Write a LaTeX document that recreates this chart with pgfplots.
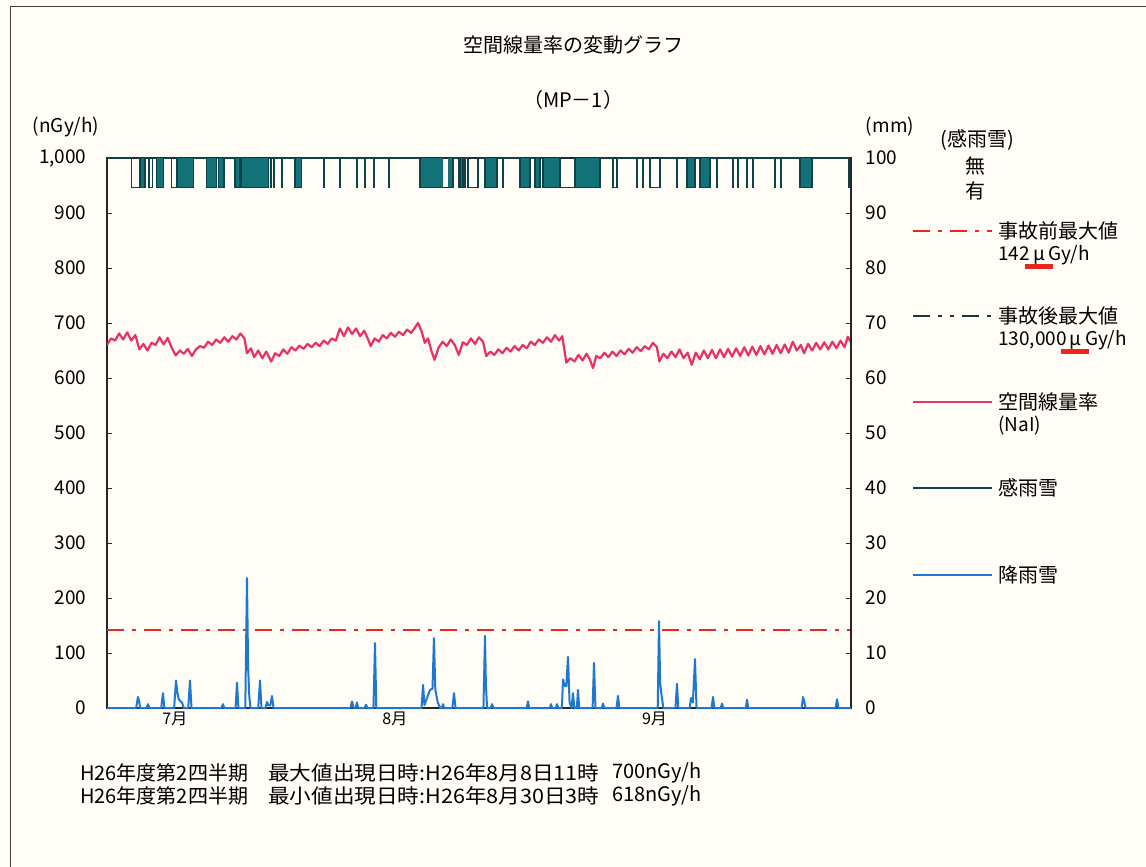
\documentclass[border=0pt]{standalone}
\usepackage{fontspec}
\setmainfont{Noto Sans CJK JP}
\usepackage{pgfplots}
\pgfplotsset{compat=1.18}
\definecolor{pinkline}{HTML}{E8306A}
\definecolor{rainblue}{HTML}{1E78D0}
\definecolor{senseD}{HTML}{0E4248}
\definecolor{senseT}{HTML}{137278}
\definecolor{redline}{HTML}{E8281E}
\definecolor{postline}{HTML}{1A3838}
\definecolor{paper}{HTML}{FFFDF6}
\newcommand\fs[1]{\fontsize{#1}{#1}\selectfont}
\tikzset{redDD/.style={redline, line width=2.5pt, dash pattern=on 17pt off 8pt on 4pt off 8pt}}
\begin{document}
\begin{tikzpicture}[x=1pt,y=1pt]
\path[use as bounding box, fill=paper] (0,0) rectangle (1146,-867);
\draw[line width=1pt, black!75] (10,-867) -- (10,-7) -- (1146,-7);

% left axis: dose rate
\begin{axis}[
  at={(107pt,-708pt)}, anchor=south west,
  width=744pt, height=550pt, scale only axis,
  xmin=0, xmax=92, ymin=0, ymax=1000,
  ytick={0,100,...,1000}, ytick pos=left,
  xtick={8.4,35.6,67.7}, xticklabels={7月,8月,9月}, xtick pos=bottom,
  xtick style={draw=none},
  tick align=inside, major tick length=5pt,
  /pgf/number format/assume math mode=true,
  /pgf/number format/1000 sep={,},
  yticklabel style={font=\fs{19}, xshift=-17pt},
  xticklabel style={font=\fs{16}},
  axis line style={line width=1.2pt, black!85},
  tick style={line width=0.8pt, black!85},
]
\addplot[pinkline, line width=2.2pt, line join=round] table {
0 660
0.5 672
1 668
1.5 681
2 670
2.5 683
3 668
3.5 678
4 652
4.5 662
5 650
5.5 664
6 660
6.5 674
7 661
7.5 673
8 655
8.5 641
9 650
9.5 644
10 653
10.5 640
11 652
11.5 658
12 655
12.5 666
13 660
13.5 670
14 664
14.5 674
15 666
15.5 676
16 670
16.5 681
17 672
17.3 645
17.8 654
18.2 638
18.7 650
19.2 636
19.7 648
20.3 630
20.8 645
21.3 640
21.8 652
22.3 644
22.8 656
23.3 650
23.8 659
24.3 653
24.8 662
25.3 656
25.8 664
26.3 658
26.8 668
27.3 662
27.8 672
28.3 668
28.8 690
29.3 676
29.8 692
30.3 680
30.8 690
31.3 676
31.8 686
32.3 670
32.6 658
33.1 672
33.6 666
34.1 678
34.6 672
35.1 682
35.6 675
36.1 684
36.6 678
37.1 688
37.6 682
38.0 690
38.46 700
38.9 685
39.3 664
39.7 672
40.1 650
40.5 633
41.0 655
41.5 666
42.0 658
42.5 670
43.0 660
43.5 642
44.0 665
44.5 660
45.0 672
45.5 662
46.0 674
46.5 666
46.9 640
47.4 648
47.9 642
48.4 652
48.9 645
49.4 655
49.9 648
50.4 658
50.9 650
51.4 660
51.9 654
52.4 666
52.9 660
53.4 670
53.9 664
54.4 674
54.9 666
55.4 678
55.9 668
56.3 676
56.8 628
57.3 636
57.8 630
58.3 642
58.8 632
59.3 644
59.7 634
60.1 618
60.5 640
61.0 636
61.5 646
62.0 638
62.5 648
63.0 640
63.5 650
64.0 643
64.5 653
65.0 646
65.5 656
66.0 649
66.5 658
67.0 652
67.5 664
68.0 656
68.3 630
68.8 644
69.3 636
69.8 648
70.3 638
70.8 652
71.3 636
71.8 646
72.3 624
72.8 646
73.3 634
73.8 650
74.3 636
74.8 651
75.3 636
75.8 652
76.3 638
76.8 653
77.3 639
77.8 654
78.3 640
78.8 656
79.3 641
79.8 657
80.3 642
80.8 658
81.3 643
81.8 659
82.3 644
82.8 660
83.3 645
83.8 661
84.3 646
84.8 666
85.3 650
85.8 660
86.2 645
86.7 662
87.2 650
87.7 664
88.2 652
88.7 665
89.2 652
89.7 666
90.2 654
90.7 668
91.2 656
91.6 675
92 665
};
% pre-accident maximum level
\addplot[redDD] coordinates {(0,142) (92,142)};
\end{axis}

% right axis: rainfall and rain sensing
\begin{axis}[
  at={(107pt,-708pt)}, anchor=south west,
  width=744pt, height=550pt, scale only axis,
  xmin=0, xmax=92, ymin=0, ymax=100,
  axis y line*=right, axis x line=none,
  ytick={0,10,...,100},
  tick align=inside, major tick length=5pt,
  /pgf/number format/assume math mode=true,
  yticklabel style={font=\fs{19}, xshift=11pt},
  axis line style={line width=1.2pt, black!85},
  tick style={line width=0.8pt, black!85},
  clip=false,
]
\addplot[rainblue, line width=2pt, line join=round] table {
0 0
3.6 0
3.83 2.0
4.0 1.0
4.1 0
4.9 0
5.07 0.7
5.25 0
6.7 0
6.92 2.7
7.1 0
8.3 0
8.53 5.0
8.7 2.8
8.9 1.5
9.27 1.0
9.5 0
10.05 0
10.26 5.0
10.45 0
14.15 0
14.34 0.7
14.5 0
15.9 0
16.08 4.6
16.25 0
17.1 0
17.31 23.6
17.45 7.4
17.6 2.0
17.75 0
18.7 0
18.92 5.0
19.1 0
19.6 0
19.78 1.1
19.95 0.5
20.2 0.5
20.4 2.2
20.6 0
30.1 0
30.30 1.2
30.5 0
30.75 0
30.91 1.0
31.05 0
31.85 0
32.03 0.6
32.2 0
32.95 0
33.14 11.8
33.3 0
38.9 0
39.08 4.2
39.25 0.5
39.94 3.3
40.25 3.5
40.43 12.7
40.6 3.3
40.9 1.0
41.2 0
41.4 0
41.55 0.7
41.7 0
42.7 0
42.91 2.7
43.1 0
46.55 0
46.74 13.1
46.85 4.5
47.0 0
47.45 0
47.61 0.7
47.8 0
51.9 0
52.06 1.2
52.2 0
54.75 0
54.90 0.7
55.05 0
55.5 0
55.64 0.7
55.8 0
56.25 0
56.39 5.2
56.6 4.0
56.8 4.0
57.0 9.3
57.2 1.0
57.45 0
57.62 2.7
57.8 0
58.1 0
58.24 3.3
58.4 0
60.05 0
60.22 8.2
60.4 0
61.2 0
61.33 0.8
61.5 0
63.0 0
63.19 2.2
63.35 0
68.1 0
68.26 15.8
68.4 4.6
68.6 2.0
68.8 0
70.3 0
70.48 4.4
70.65 0
72.05 0
72.21 1.8
72.45 1.0
72.71 8.9
72.9 0
74.75 0
74.94 2.0
75.1 0
75.9 0
76.05 0.8
76.2 0
79.0 0
79.14 1.5
79.3 0
85.9 0
86.06 2.0
86.25 1.0
86.4 0
90.1 0
90.27 1.6
90.45 0
92 0
};
% rain sensing: dense periods (filled)
\addplot[const plot, fill=senseT, draw=none] coordinates {
(0,100) (4.08,94.7) (4.70,100) (6.15,94.7) (6.96,100) (8.69,94.7) (10.67,100)
(12.33,94.7) (13.56,100) (13.76,94.7) (14.47,100) (15.83,94.7) (16.45,100)
(16.66,94.7) (19.95,100) (23.25,94.7) (24.08,100) (38.70,94.7) (41.55,100)
(42.17,94.7) (42.78,100) (43.65,94.7) (44.02,100) (46.74,94.7) (48.23,100)
(51.07,94.7) (52.31,100) (52.92,94.7) (53.54,100) (53.91,94.7) (55.95,100)
(57.95,94.7) (60.96,100) (71.71,94.7) (72.70,100) (73.32,94.7) (74.56,100)
(85.69,94.7) (87.17,100) (92,100)} -- cycle;
% rain sensing: on/off step line
\addplot[const plot, senseD, line width=1.3pt] coordinates {
(0,100) (3.05,94.7) (4.00,100) (4.08,94.7) (4.70,100) (5.19,94.7) (5.65,100)
(6.15,94.7) (6.96,100) (8.00,94.7) (8.60,100) (8.69,94.7) (10.67,100)
(12.33,94.7) (13.56,100) (13.76,94.7) (14.47,100) (15.83,94.7) (16.45,100)
(16.66,94.7) (19.95,100) (20.24,94.7) (20.34,100) (20.56,94.7) (20.66,100)
(21.60,94.7) (21.70,100) (23.25,94.7) (24.08,100) (26.75,94.7) (26.85,100)
(28.73,94.7) (28.83,100) (30.88,94.7) (30.98,100) (31.82,94.7) (31.92,100)
(33.02,94.7) (33.12,100) (34.78,94.7) (34.88,100) (38.70,94.7) (42.78,100)
(43.44,94.7) (43.54,100) (43.65,94.7) (44.02,100) (44.27,94.7) (44.37,100)
(44.64,94.7) (45.88,100) (46.74,94.7) (48.23,100) (48.97,94.7) (49.07,100)
(51.07,94.7) (52.31,100) (52.92,94.7) (53.54,100) (53.91,94.7) (55.95,100)
(56.05,94.7) (57.80,100) (57.95,94.7) (60.96,100) (62.57,94.7) (63.06,100)
(65.54,94.7) (65.64,100) (66.28,94.7) (66.38,100) (67.15,94.7) (68.38,100)
(70.48,94.7) (70.58,100) (71.71,94.7) (72.70,100) (73.32,94.7) (74.56,100)
(75.43,94.7) (75.53,100) (77.41,94.7) (77.51,100) (78.03,94.7) (78.13,100)
(79.14,94.7) (79.24,100) (79.88,94.7) (79.98,100) (82.60,94.7) (82.70,100)
(83.34,94.7) (83.44,100) (85.69,94.7) (87.17,100) (91.75,94.7) (92,94.7)};
\end{axis}

% titles and unit labels
\node[font=\fs{20}] at (573,-45) {空間線量率の変動グラフ};
\node[font=\fs{20}] at (573,-100) {（MP－1）};
\node[font=\fs{19}] at (66,-127) {(nGy/h)};
\node[font=\fs{19}] at (890,-127) {(mm)};
\node[font=\fs{20}] at (977,-140) {(感雨雪)};
\node[font=\fs{20}] at (975,-166) {無};
\node[font=\fs{20}] at (975,-191) {有};

% legend
\draw[redDD] (913,-231) -- (992,-231);
\node[font=\fs{20}, anchor=west, inner sep=0pt] at (998,-231) {事故前最大値};
\node[font=\fs{19}, anchor=west, inner sep=0pt] at (998,-255) {142\,\textit{μ}\,Gy/h};
\fill[redline] (1025,-264) rectangle (1053,-269);
\draw[postline, line width=2.2pt, dash pattern=on 17pt off 8pt on 4pt off 8pt on 4pt off 8pt] (913,-316) -- (992,-316);
\node[font=\fs{20}, anchor=west, inner sep=0pt] at (998,-316) {事故後最大値};
\node[font=\fs{19}, anchor=west, inner sep=0pt] at (998,-340) {130,000\,\textit{μ}\,Gy/h};
\fill[redline] (1061,-349) rectangle (1089,-354);
\draw[pinkline, line width=2.2pt] (913,-402) -- (992,-402);
\node[font=\fs{20}, anchor=west, inner sep=0pt] at (998,-402) {空間線量率};
\node[font=\fs{19}, anchor=west, inner sep=0pt] at (998,-426) {(NaI)};
\draw[senseD, line width=2pt] (913,-488) -- (992,-488);
\node[font=\fs{20}, anchor=west, inner sep=0pt] at (998,-488) {感雨雪};
\draw[rainblue, line width=2pt] (913,-575) -- (992,-575);
\node[font=\fs{20}, anchor=west, inner sep=0pt] at (998,-575) {降雨雪};

% notes below the chart
\node[font=\fs{20}, anchor=west, inner sep=0pt] at (80,-773) {H26年度第2四半期};
\node[font=\fs{20}, anchor=west, inner sep=0pt] at (268,-773) {\scalebox{1.08}[1]{最大値出現日時:H26年8月8日11時}};
\node[font=\fs{20}, anchor=west, inner sep=0pt] at (612,-773) {700nGy/h};
\node[font=\fs{20}, anchor=west, inner sep=0pt] at (80,-796) {H26年度第2四半期};
\node[font=\fs{20}, anchor=west, inner sep=0pt] at (268,-796) {\scalebox{1.08}[1]{最小値出現日時:H26年8月30日3時}};
\node[font=\fs{20}, anchor=west, inner sep=0pt] at (612,-796) {618nGy/h};
\end{tikzpicture}
\end{document}
